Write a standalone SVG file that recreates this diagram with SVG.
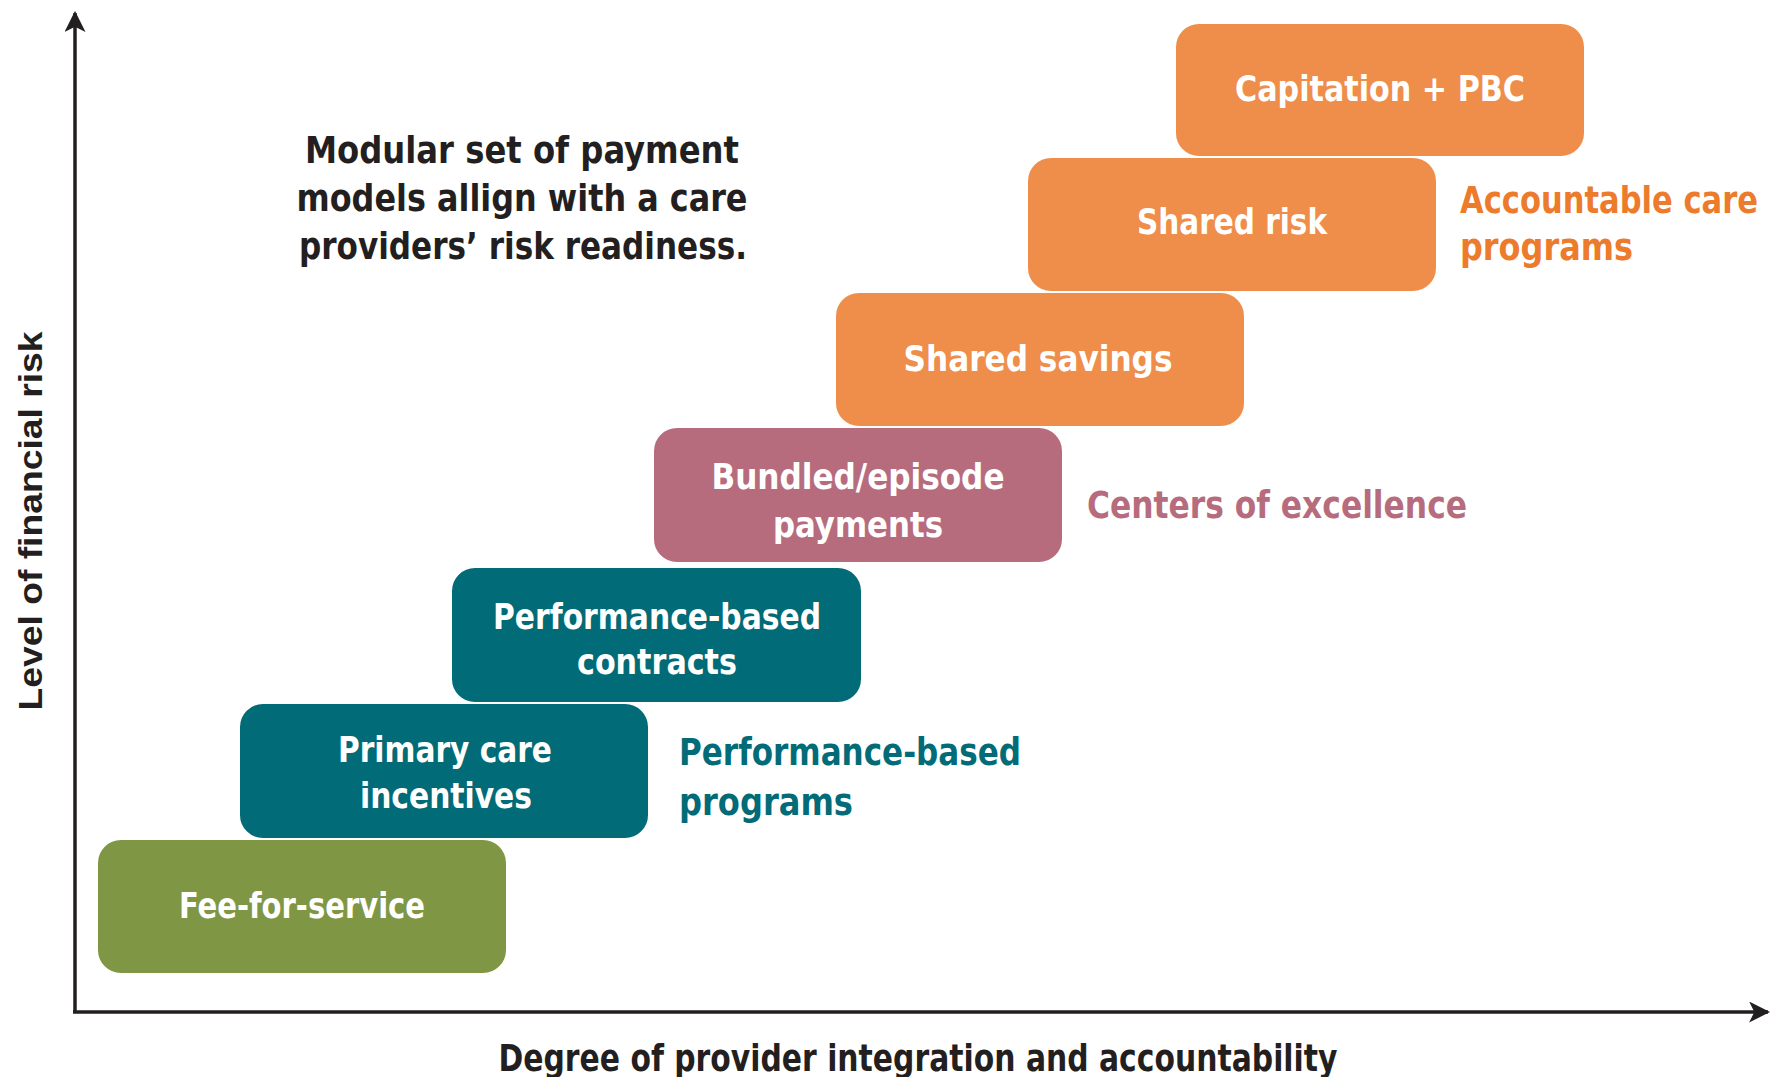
<svg xmlns="http://www.w3.org/2000/svg" width="1777" height="1077" viewBox="0 0 1777 1077">
<defs>
<style>
.box{stroke:#ffffff;stroke-width:2}
.orange{fill:#EF8D4A}
.mauve{fill:#B76C7E}
.teal{fill:#016B77}
.green{fill:#7F9745}
.bt{font-family:"Liberation Sans Narrow","DejaVu Sans Condensed","Liberation Sans",Arial,sans-serif;font-weight:bold;font-size:36px;fill:#ffffff;text-anchor:middle}
.lbl{font-family:"Liberation Sans Narrow","DejaVu Sans Condensed","Liberation Sans",Arial,sans-serif;font-weight:bold;font-size:37px}
.lbls{font-family:"Liberation Sans Narrow","DejaVu Sans Condensed","Liberation Sans",Arial,sans-serif;font-weight:bold;font-size:32px}
.dark{font-family:"Liberation Sans Narrow","DejaVu Sans Condensed","Liberation Sans",Arial,sans-serif;font-weight:bold;font-size:38px;fill:#231F20}
.axis{stroke:#231F20;stroke-width:3.5;fill:none}
</style>
<marker id="arr" viewBox="0 0 10 10" refX="9" refY="5" markerWidth="6" markerHeight="6" orient="auto" markerUnits="strokeWidth">
<path d="M0,0 L10,5 L0,10 L2.5,5 Z" fill="#231F20"/>
</marker>
</defs>
<rect width="1777" height="1077" fill="#ffffff"/>

<g id="connectors">
<line class="axis" x1="75" y1="1012" x2="75" y2="13" marker-end="url(#arr)"/>
<line class="axis" x1="73" y1="1012" x2="1768" y2="1012" marker-end="url(#arr)"/>
</g>

<g id="title">
<text class="dark" x="522" y="163" text-anchor="middle" textLength="434" lengthAdjust="spacingAndGlyphs">Modular set of payment</text>
<text class="dark" x="522" y="211" text-anchor="middle" textLength="451" lengthAdjust="spacingAndGlyphs">models allign with a care</text>
<text class="dark" x="523" y="259" text-anchor="middle" textLength="448" lengthAdjust="spacingAndGlyphs">providers’ risk readiness.</text>
</g>

<g id="node-capitation">
<rect class="box orange" x="1175" y="23" width="410" height="134" rx="24"/>
<text class="bt" x="1380" y="101" textLength="290" lengthAdjust="spacingAndGlyphs">Capitation + PBC</text>
</g>
<g id="node-shared-risk">
<rect class="box orange" x="1027" y="157" width="410" height="135" rx="24"/>
<text class="bt" x="1232" y="234" textLength="190" lengthAdjust="spacingAndGlyphs">Shared risk</text>
</g>
<g id="node-shared-savings">
<rect class="box orange" x="835" y="292" width="410" height="135" rx="24"/>
<text class="bt" x="1038" y="371" textLength="269" lengthAdjust="spacingAndGlyphs">Shared  savings</text>
</g>
<g id="node-bundled">
<rect class="box mauve" x="653" y="427" width="410" height="136" rx="24"/>
<text class="bt" x="858" y="489" textLength="293" lengthAdjust="spacingAndGlyphs">Bundled/episode</text>
<text class="bt" x="858" y="537" textLength="170" lengthAdjust="spacingAndGlyphs">payments</text>
</g>
<g id="node-perf-contracts">
<rect class="box teal" x="451" y="567" width="411" height="136" rx="24"/>
<text class="bt" x="657" y="629" textLength="328" lengthAdjust="spacingAndGlyphs">Performance-based</text>
<text class="bt" x="657" y="674" textLength="160" lengthAdjust="spacingAndGlyphs">contracts</text>
</g>
<g id="node-primary-care">
<rect class="box teal" x="239" y="703" width="410" height="136" rx="24"/>
<text class="bt" x="445" y="762" textLength="214" lengthAdjust="spacingAndGlyphs">Primary care</text>
<text class="bt" x="446" y="808" textLength="172" lengthAdjust="spacingAndGlyphs">incentives</text>
</g>
<g id="node-fee-for-service">
<rect class="box green" x="97" y="839" width="410" height="135" rx="24"/>
<text class="bt" x="302" y="918" textLength="246" lengthAdjust="spacingAndGlyphs">Fee-for-service</text>
</g>

<g id="label-accountable" transform="translate(1460,0) scale(1,1.156)">
<text class="lbls" x="0" y="184.3" fill="#EC7B2C" textLength="298" lengthAdjust="spacingAndGlyphs">Accountable care</text>
<text class="lbls" x="0" y="224.9" fill="#EC7B2C" textLength="173" lengthAdjust="spacingAndGlyphs">programs</text>
</g>
<g id="label-centers">
<text class="lbl" x="1087" y="518" fill="#B76C7E" textLength="380" lengthAdjust="spacingAndGlyphs">Centers of excellence</text>
</g>
<g id="label-performance">
<text class="lbl" x="679" y="765" fill="#016B77" textLength="342" lengthAdjust="spacingAndGlyphs">Performance-based</text>
<text class="lbl" x="679" y="815" fill="#016B77" textLength="174" lengthAdjust="spacingAndGlyphs">programs</text>
</g>

<g id="axis-labels">
<text x="0" y="0" transform="translate(42,521) rotate(-90)" text-anchor="middle" font-family="Liberation Sans, Arial, sans-serif" font-weight="bold" font-size="33" fill="#231F20" textLength="379" lengthAdjust="spacingAndGlyphs">Level of financial risk</text>
<text class="dark" x="918" y="1071" text-anchor="middle" textLength="839" lengthAdjust="spacingAndGlyphs">Degree of provider integration and accountability</text>
</g>
</svg>
